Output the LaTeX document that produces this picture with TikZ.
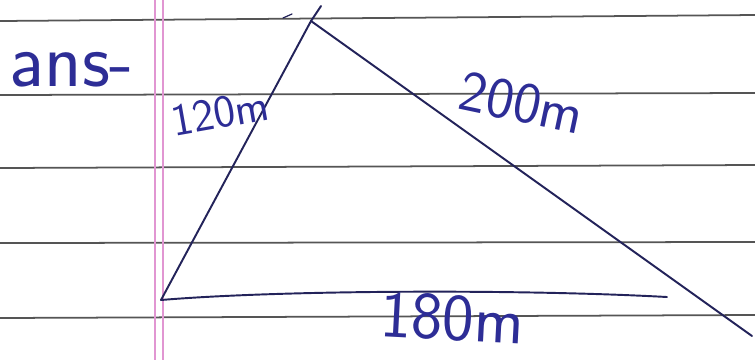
\documentclass[tikz,border=0pt]{standalone}
\usepackage{xcolor}
\usepackage{tikz}
\usetikzlibrary{positioning}
\definecolor{ink}{RGB}{45,45,150}
\definecolor{pen}{RGB}{35,35,90}
\definecolor{rulegray}{RGB}{85,85,85}
\definecolor{marginpink}{RGB}{225,150,210}

\begin{document}
\begin{tikzpicture}[x=0.02cm, y=-0.02cm,
  ruled/.style={draw=rulegray, line width=1pt},
  marginline/.style={draw=marginpink, line width=0.8pt},
  side/.style={draw=pen, line width=1.1pt, line cap=round},
  handtext/.style={text=ink, font=\sffamily, inner sep=0pt}
]
\useasboundingbox[fill=white] (0,0) rectangle (755,360);
\foreach \ya/\yb in {21/15, 95/93, 168/165, 243/242, 318/315}
  \draw[ruled] (0,\ya) -- (755,\yb);
\draw[marginline] (155,0) -- (155,360);
\draw[marginline] (163,0) -- (163,360);

\coordinate (top) at (311,21);
\coordinate (topend) at (321,6);
\coordinate (left) at (161,300);
\coordinate (right) at (752,336);
\coordinate (baseend) at (667,297);
\coordinate (tickA) at (283,18);
\coordinate (tickB) at (292,14);

\draw[side] (left) -- (top) -- (topend);
\draw[side] (top) -- (right);
\draw[side] (left) .. controls (280,290) and (520,289) .. (baseend);
\draw[side, line width=0.7pt] (tickA) -- (tickB);

\node[handtext, font=\sffamily\fontsize{44}{48}\selectfont] (ans) at (72,70) {ans-};
\node[handtext, font=\sffamily\fontsize{26}{30}\selectfont, rotate=10] (sideA) at (220,113) {120m};
\node[handtext, font=\sffamily\fontsize{33}{36}\selectfont, rotate=-12] (sideB) at (522,103) {200m};
\node[handtext, font=\sffamily\fontsize{38}{42}\selectfont, rotate=-3] (sideC) at (452,318) {180m};
\end{tikzpicture}
\end{document}
